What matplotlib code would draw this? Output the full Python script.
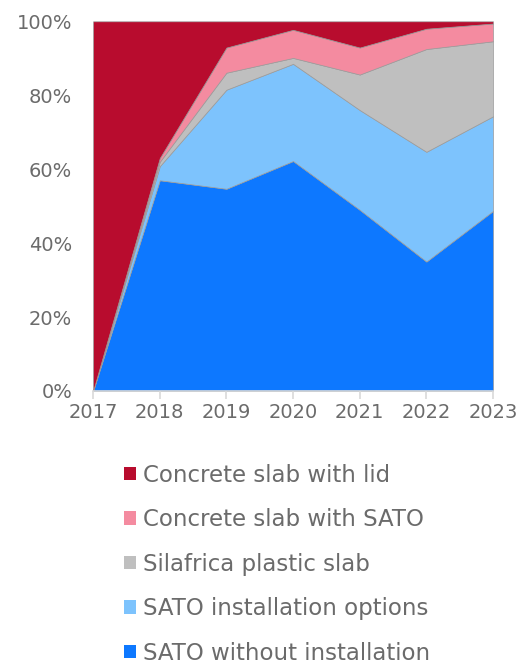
import matplotlib
matplotlib.use("Agg")
import matplotlib.pyplot as plt
from matplotlib.patches import Patch

years = [2017, 2018, 2019, 2020, 2021, 2022, 2023]

# Share of each product per year (percent), bottom of the stack first
sato_without_installation = [0.0, 57.0, 54.7, 62.2, 49.0, 35.0, 48.7]
sato_installation_options = [0.0, 3.8, 26.8, 26.3, 27.0, 29.7, 25.6]
silafrica_plastic_slab = [0.0, 1.2, 4.6, 1.6, 9.6, 27.8, 20.3]
concrete_slab_with_sato = [0.0, 1.0, 6.8, 7.6, 7.3, 5.5, 4.8]
concrete_slab_with_lid = [100.0, 37.0, 7.1, 2.3, 7.1, 2.0, 0.6]

series_labels = [
    "SATO without installation",
    "SATO installation options",
    "Silafrica plastic slab",
    "Concrete slab with SATO",
    "Concrete slab with lid",
]
series_colors = ["#0D78FF", "#7DC3FD", "#BFBFBF", "#F48BA0", "#B80C2E"]

y_ticks = [0, 20, 40, 60, 80, 100]
y_tick_labels = ["0%", "20%", "40%", "60%", "80%", "100%"]

text_color = "#6b6b6b"
font = "DejaVu Sans"

fig = plt.figure(figsize=(5.29, 6.66), dpi=100)
ax = fig.add_axes([0.176, 0.413, 0.756, 0.555])

ax.stackplot(
    years,
    sato_without_installation,
    sato_installation_options,
    silafrica_plastic_slab,
    concrete_slab_with_sato,
    concrete_slab_with_lid,
    colors=series_colors,
    edgecolor="#9a9a9a",
    linewidth=0.5,
)

ax.set_xlim(years[0], years[-1])
ax.set_ylim(0, 100)
ax.set_xticks(years)
ax.set_xticklabels([str(y) for y in years], fontsize=14, color=text_color, family=font)
ax.set_yticks(y_ticks)
ax.set_yticklabels(y_tick_labels, fontsize=14, color=text_color, family=font)

for side in ("top", "right", "left"):
    ax.spines[side].set_visible(False)
ax.spines["bottom"].set_color("#D9D9D9")
ax.spines["bottom"].set_linewidth(1.2)
ax.tick_params(axis="x", direction="out", length=6, width=1.2, color="#D9D9D9", pad=3)
ax.tick_params(axis="y", length=0, pad=15)

# Legend, listed top of stack first
handles = [Patch(facecolor=c, edgecolor="none") for c in series_colors][::-1]
labels = series_labels[::-1]
fig.legend(
    handles,
    labels,
    loc="upper left",
    bbox_to_anchor=(0.195, 0.335),
    frameon=False,
    prop={"family": font, "size": 16.5},
    labelcolor=text_color,
    handlelength=0.52,
    handleheight=0.52,
    handletextpad=0.3,
    labelspacing=0.94,
)

fig.savefig("out.png", dpi=100)
